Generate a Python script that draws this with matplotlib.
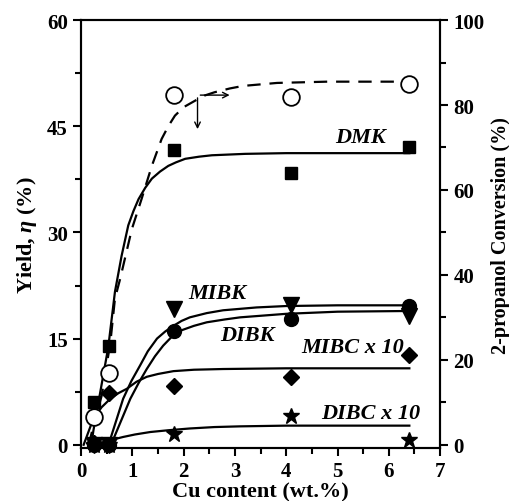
import numpy as np
import matplotlib
matplotlib.use("Agg")
import matplotlib.pyplot as plt

plt.rcParams["font.family"] = ["Liberation Serif", "DejaVu Serif"]
plt.rcParams["font.weight"] = "bold"
plt.rcParams["mathtext.fontset"] = "custom"
plt.rcParams["mathtext.it"] = "Liberation Serif:italic:bold"

# ===== dados =====
cu = [0.25, 0.55, 1.82, 4.1, 6.4]
dmk = [6.1, 14.0, 41.6, 38.4, 42.1]
mibk = [0.0, 0.0, 19.2, 19.8, 18.2]
dibk = [0.0, 0.0, 16.1, 17.8, 19.6]
mibc = [0.3, 7.3, 8.3, 9.6, 12.7]
dibc = [0.0, 0.0, 1.5, 4.1, 0.7]
conv = [6.5, 17.0, 82.4, 81.9, 85.0]   # eixo direito

# curvas ajustadas (pontos lidos)
fit_dmk_x = [0.2, 0.24, 0.4, 0.53, 0.66, 0.79, 0.92, 1.02, 1.12, 1.25, 1.38,
             1.54, 1.70, 1.85, 2.03, 2.3, 2.55, 3.2, 4.0, 5.0, 6.4]
fit_dmk_y = [0.0, 2.0, 8.5, 13.8, 21.6, 26.7, 31.0, 33.0, 34.7, 36.3, 37.6,
             38.6, 39.4, 39.9, 40.4, 40.7, 40.9, 41.1, 41.2, 41.2, 41.2]
fit_conv_x = [0.15, 0.24, 0.4, 0.57, 0.66, 0.76, 0.99, 1.18, 1.38, 1.57, 1.7,
              1.83, 2.0, 2.22, 2.4, 2.6, 2.9, 3.16, 3.82, 4.8, 6.4]
fit_conv_y = [0.0, 4.5, 11.5, 24.0, 34.4, 39.0, 50.8, 57.9, 65.7, 72.0, 75.0,
              77.5, 79.5, 81.0, 82.2, 83.0, 83.9, 84.5, 85.2, 85.5, 85.5]
fit_mibk_x = [0.52, 0.57, 0.82, 0.98, 1.15, 1.3, 1.48, 1.64, 1.80, 1.96, 2.12,
              2.45, 2.77, 3.42, 4.0, 5.0, 6.4]
fit_mibk_y = [0.0, 0.8, 6.5, 9.0, 11.2, 13.2, 15.0, 16.0, 16.8, 17.5, 18.0,
              18.6, 19.0, 19.4, 19.6, 19.7, 19.7]
fit_dibk_x = [0.58, 0.63, 0.96, 1.12, 1.28, 1.44, 1.6, 1.76, 1.93, 2.2, 2.45,
              2.8, 3.1, 4.0, 5.0, 6.4]
fit_dibk_y = [0.0, 0.8, 6.5, 8.7, 10.7, 12.5, 14.0, 15.2, 16.1, 16.8, 17.3,
              17.7, 18.0, 18.5, 18.8, 18.9]
fit_mibc_x = [0.05, 0.24, 0.4, 0.57, 0.73, 0.89, 1.08, 1.28, 1.5, 1.8, 2.2,
              2.77, 4.0, 5.0, 6.4]
fit_mibc_y = [0.0, 3.7, 5.3, 6.5, 7.3, 7.9, 8.9, 9.6, 10.0, 10.4, 10.6,
              10.7, 10.8, 10.8, 10.8]
fit_dibc_x = [0.3, 0.44, 0.6, 0.82, 1.05, 1.35, 1.7, 2.12, 2.6, 3.1, 4.0, 5.0, 6.4]
fit_dibc_y = [0.0, 0.4, 0.7, 1.1, 1.45, 1.8, 2.05, 2.3, 2.5, 2.6, 2.7, 2.7, 2.7]

fig = plt.figure(figsize=(5.10, 5.02), dpi=100)
ax = fig.add_axes([0.159, 0.105, 0.704, 0.853])
ax2 = ax.twinx()

lw = 1.6
for fx, fy in [(fit_dmk_x, fit_dmk_y), (fit_mibk_x, fit_mibk_y),
               (fit_dibk_x, fit_dibk_y), (fit_mibc_x, fit_mibc_y),
               (fit_dibc_x, fit_dibc_y)]:
    ax.plot(fx, fy, color="black", lw=lw, solid_joinstyle="round")
ax2.plot(fit_conv_x, fit_conv_y, color="black", lw=lw, ls=(0, (6, 4)))

kw = dict(ls="none", color="black", clip_on=False, zorder=5)
ax.plot(cu, dmk, marker="s", ms=9, **kw)
ax.plot(cu, mibk, marker="v", ms=11, **kw)
ax.plot(cu, dibk, marker="o", ms=10, **kw)
ax.plot(cu, mibc, marker="D", ms=8.5, **kw)
ax.plot(cu, dibc, marker="*", ms=12, **kw)
ax2.plot(cu, conv, marker="o", ms=12, ls="none", mfc="white", mec="black",
         mew=1.3, clip_on=False, zorder=5)

# setas indicando o eixo de cada curva
ax.annotate("", xy=(2.95, 49.4), xytext=(2.27, 49.4),
            arrowprops=dict(arrowstyle="->", color="black", lw=1.0))
ax.annotate("", xy=(2.27, 44.2), xytext=(2.27, 49.4),
            arrowprops=dict(arrowstyle="->", color="black", lw=1.0))

tk = dict(fontsize=16, fontstyle="italic", fontweight="bold", ha="center", va="center")
ax.text(5.45, 43.5, "DMK", **tk)
ax.text(2.65, 21.4, "MIBK", **tk)
ax.text(3.25, 15.5, "DIBK", **tk)
ax.text(5.3, 13.8, "MIBC x 10", **tk)
ax.text(5.65, 4.5, "DIBC x 10", **tk)

ax.set_xlim(0, 7)
ax.set_ylim(-0.5, 60)
ax2.set_ylim(-0.5 * 100 / 60, 100)
ax.set_xticks(range(0, 8))
ax.set_xticks(np.arange(0.5, 7, 1), minor=True)
ax.set_yticks([0, 15, 30, 45, 60])
ax.set_yticks([7.5, 22.5, 37.5, 52.5], minor=True)
ax2.set_yticks([0, 20, 40, 60, 80, 100])
ax2.set_yticks([10, 30, 50, 70, 90], minor=True)

for a in (ax, ax2):
    for s in a.spines.values():
        s.set_linewidth(1.5)
    a.tick_params(which="major", direction="out", length=6, width=1.5, labelsize=15)
    a.tick_params(which="minor", direction="out", length=4, width=1.5)
    for lab in a.get_xticklabels() + a.get_yticklabels():
        lab.set_fontweight("bold")

ax.set_xlabel("Cu content (wt.%)", fontsize=16, fontweight="bold", labelpad=0)
ax.set_ylabel(r"Yield, $\eta$ (%)", fontsize=16, fontweight="bold", labelpad=6)
ax2.set_ylabel("2-propanol Conversion (%)", fontsize=14.5, fontweight="bold", labelpad=5)

fig.savefig("out.png", dpi=100)
